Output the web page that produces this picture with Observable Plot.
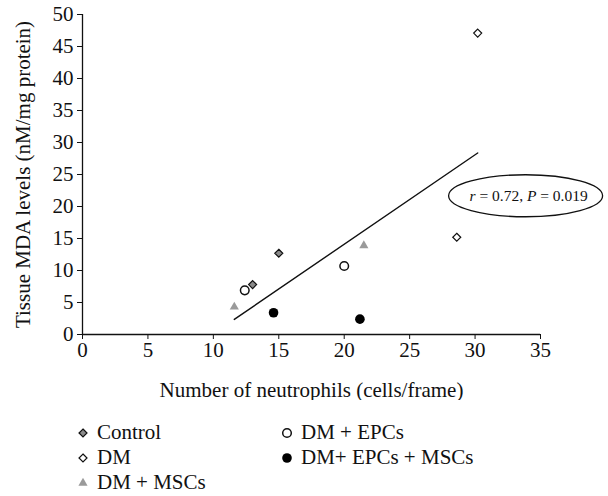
<!DOCTYPE html>
<html><head><meta charset="utf-8">
<script src="https://cdn.jsdelivr.net/npm/d3@7"></script>
<script src="https://cdn.jsdelivr.net/npm/@observablehq/plot@0.6"></script>
<style>
body{margin:0;background:#fff;}
#wrap{position:relative;width:608px;height:496px;font-family:'Liberation Serif',serif;color:#111;}
#wrap svg text{font-family:'Liberation Serif',serif;}
.leg{position:absolute;font-size:21px;line-height:21px;white-space:nowrap;display:flex;align-items:center;}
.leg svg{margin-right:8px;}
</style></head><body><div id="wrap"></div>
<script>
const groups = ["Control", "DM", "DM + MSCs", "DM + EPCs", "DM+ EPCs + MSCs"];
const controlX = [13.0, 15.0], controlY = [7.8, 12.7];
const dmX = [30.2, 28.6], dmY = [47.1, 15.2];
const mscX = [11.6, 21.5], mscY = [4.3, 13.9];
const epcX = [12.4, 20.0], epcY = [6.9, 10.7];
const bothX = [14.6, 21.2], bothY = [3.4, 2.4];
const xTicks = [0, 5, 10, 15, 20, 25, 30, 35];
const yTicks = [0, 5, 10, 15, 20, 25, 30, 35, 40, 45, 50];
const annotText = ["r", " = 0.72, ", "P", " = 0.019"];
const annotX = 33.9, annotY = 21.6;

const seriesX = [controlX, dmX, mscX, epcX, bothX];
const seriesY = [controlY, dmY, mscY, epcY, bothY];
const data = groups.flatMap((g, i) => seriesX[i].map((x, j) => ({group: g, x, y: seriesY[i][j]})));
const styles = {
  "Control": {symbol: "diamond2", r: 3.6, fill: "#8a8a8a", stroke: "#111", strokeWidth: 1.2},
  "DM": {symbol: "diamond2", r: 3.6, fill: "#fff", stroke: "#111", strokeWidth: 1.2},
  "DM + MSCs": {symbol: "triangle", r: 3.4, fill: "#9a9a9a", stroke: "none"},
  "DM + EPCs": {symbol: "circle", r: 4.3, fill: "#fff", stroke: "#111", strokeWidth: 1.5},
  "DM+ EPCs + MSCs": {symbol: "circle", r: 4.8, fill: "#000", stroke: "none"}
};

const ellipseMark = (index, scales, values, dims) => {
  const g = d3.create("svg:g");
  const cx = scales.x(annotX), cy = scales.y(annotY);
  g.append("ellipse").attr("cx", cx).attr("cy", cy).attr("rx", 77).attr("ry", 21)
    .attr("fill", "none").attr("stroke", "#111").attr("stroke-width", 1.3);
  const t = g.append("text").attr("x", cx + 3).attr("y", cy).attr("dy", "0.35em")
    .attr("text-anchor", "middle").attr("font-size", 15.5).attr("fill", "#111");
  annotText.forEach((s, i) => t.append("tspan").attr("font-style", i % 2 === 0 ? "italic" : "normal").text(s));
  return g.node();
};

const chart = Plot.plot({
  width: 608, height: 400,
  marginLeft: 82, marginRight: 68, marginTop: 14, marginBottom: 66,
  style: "font-family: 'Liberation Serif', serif; font-size: 21px; color: #111; background: transparent;",
  x: {domain: [0, 35]},
  y: {domain: [0, 50]},
  marks: [
    Plot.axisX({ticks: xTicks, tickSize: 5, tickPadding: 3, label: "Number of neutrophils (cells/frame)", labelAnchor: "center", labelArrow: "none", labelOffset: 62, fontSize: 21, stroke: "#111"}),
    Plot.axisY({ticks: yTicks, tickSize: 5, tickPadding: 4, label: "Tissue MDA levels (nM/mg protein)", labelAnchor: "center", labelArrow: "none", labelOffset: 67, fontSize: 21, stroke: "#111"}),
    Plot.ruleY([0], {stroke: "#111", strokeWidth: 1.3}),
    Plot.ruleX([0], {stroke: "#111", strokeWidth: 1.3}),
    Plot.linearRegressionY(data, {x: "x", y: "y", ci: 0, stroke: "#111", strokeWidth: 1.4}),
    ...groups.map(g => Plot.dot(data.filter(d => d.group === g), {x: "x", y: "y", ...styles[g]})),
    ellipseMark
  ]
});
const wrap = document.getElementById("wrap");
wrap.appendChild(chart);

// legend
const legPos = [[83, 433], [83, 458], [83, 483], [287, 433], [287, 458]];
groups.forEach((g, i) => {
  const s = styles[g];
  const div = document.createElement("div");
  div.className = "leg";
  div.style.left = (legPos[i][0] - 6) + "px";
  div.style.top = (legPos[i][1] - 11) + "px";
  const sym = d3.create("svg").attr("width", 12).attr("height", 12);
  const sz = Math.PI * s.r * s.r;
  const symType = s.symbol === "diamond2" ? d3.symbolDiamond2 : s.symbol === "triangle" ? d3.symbolTriangle : d3.symbolCircle;
  sym.append("path").attr("transform", "translate(6,6)").attr("d", d3.symbol(symType, sz)())
    .attr("fill", s.fill).attr("stroke", s.stroke).attr("stroke-width", s.strokeWidth || 0);
  div.appendChild(sym.node());
  const span = document.createElement("span");
  span.textContent = g;
  div.appendChild(span);
  wrap.appendChild(div);
});
</script></body></html>
